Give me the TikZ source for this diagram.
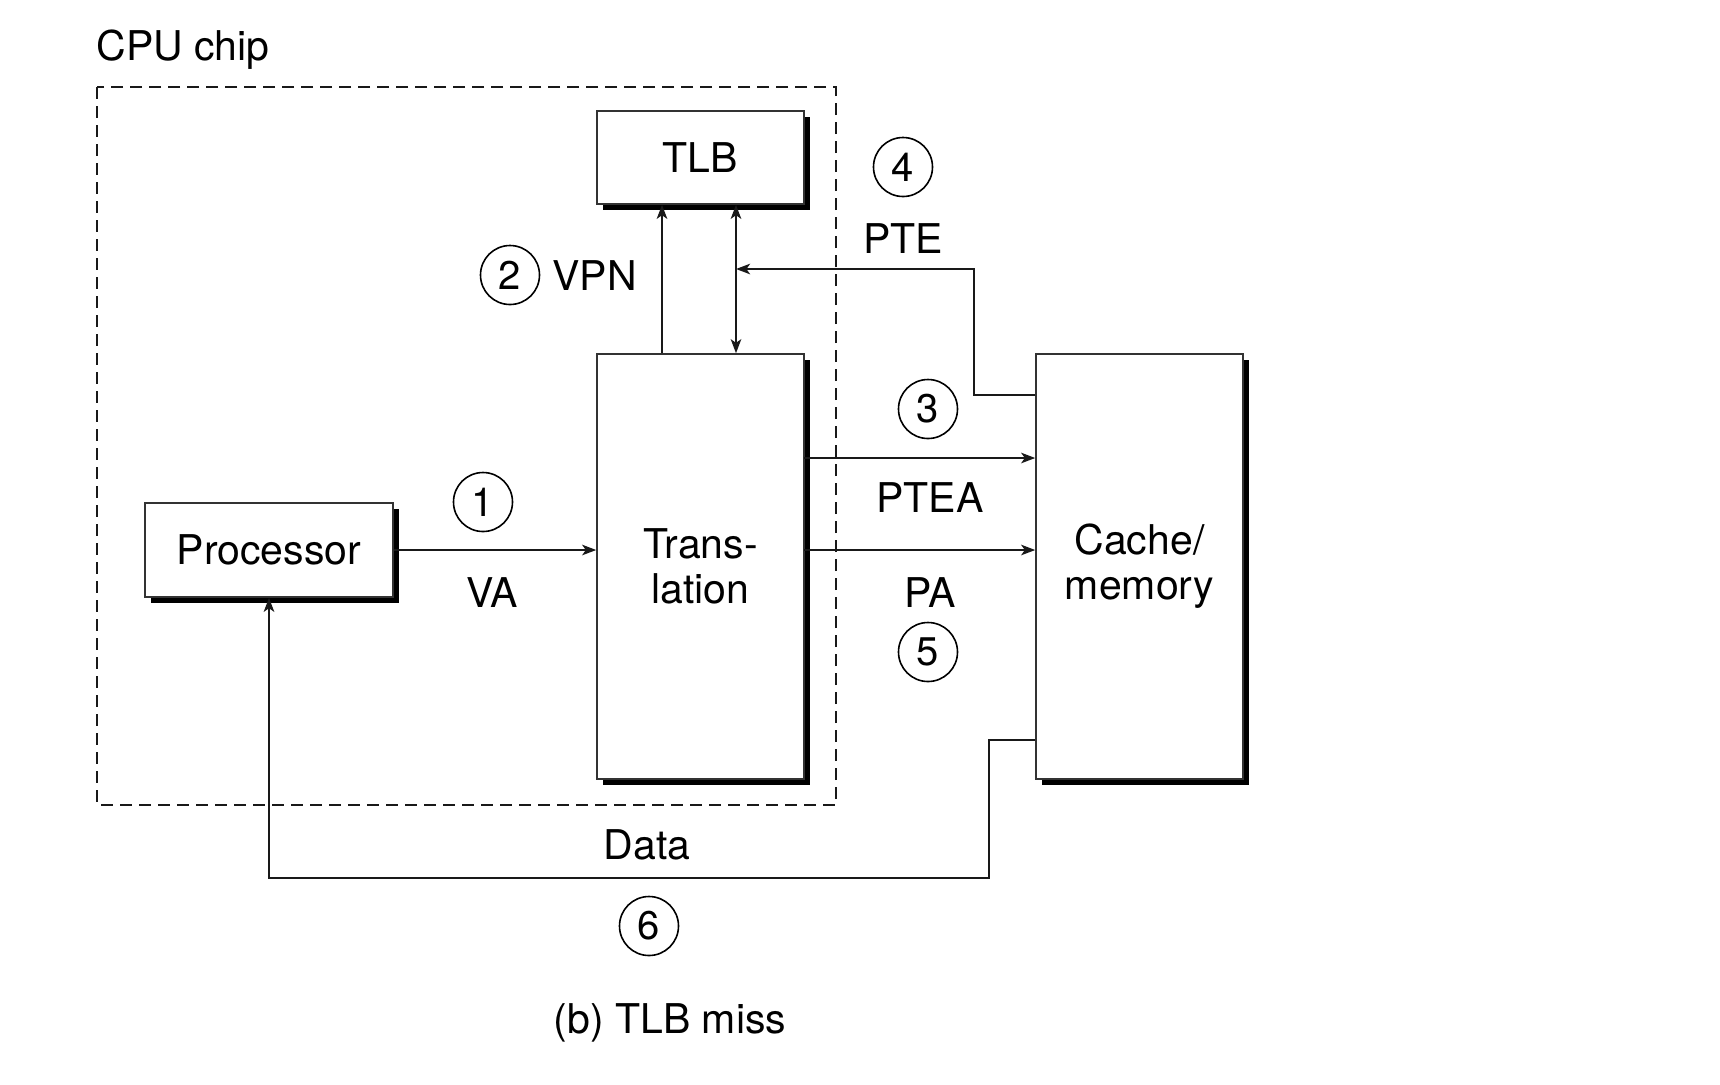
\documentclass[tikz,border=0pt]{standalone}
\usepackage{fontspec}
\setmainfont{TeX Gyre Heros}
\usetikzlibrary{arrows.meta,shadows}
\begin{document}
\begin{tikzpicture}[x=0.5pt,y=-0.5pt,
  lbl/.style={font=\fontsize{20.5}{22.5}\selectfont, inner sep=0pt, anchor=base},
  blk/.style={rectangle, draw=black!80, line width=0.75pt, fill=white, inner sep=0pt,
    align=center, font=\fontsize{20.5}{22.5}\selectfont,
    general shadow={fill=black, shadow xshift=3pt, shadow yshift=-3pt}},
  num/.style={circle, draw=black, line width=0.8pt, minimum size=29.5pt, inner sep=0pt,
    font=\fontsize{20}{20}\selectfont},
  conn/.style={line width=1.25pt, draw=black!90},
  arr/.style={conn, -{Stealth[length=7pt,width=5.2pt,inset=1.8pt]}},
  darr/.style={conn, {Stealth[length=7pt,width=5.2pt,inset=1.8pt]}-{Stealth[length=7pt,width=5.2pt,inset=1.8pt]}},
  chip/.style={draw=black!90, line width=1.1pt, dash pattern=on 6pt off 3.5pt}]
\useasboundingbox (0,0) rectangle (1720,1084);
% CPU chip boundary
\draw[chip] (97,87) rectangle (836,805);
\node[lbl, anchor=base west] (cpulbl) at (96,60) {CPU chip};
% blocks
\node[blk, minimum width=103.5pt, minimum height=46.5pt] (tlb) at (700.5,157.5) {TLB};
\node[blk, minimum width=103.5pt, minimum height=212.5pt] (trans) at (700.5,566.5) {Trans-\\lation};
\node[blk, minimum width=124pt, minimum height=47pt] (proc) at (269,550) {Processor};
\node[blk, minimum width=103.5pt, minimum height=212.5pt] (cache) at (1139.5,566.5) {Cache/\\memory};
% coordinates
\coordinate (vx) at (662,0);
\coordinate (dx) at (736,0);
\coordinate (pte1) at (974,395);
\coordinate (pte2) at (974,269);
\coordinate (ptea) at (804,458);
\coordinate (pa) at (804,550);
\coordinate (d1) at (989,740);
\coordinate (d2) at (989,878);
\coordinate (d3) at (269,878);
% connectors
\draw[arr] (proc.east) -- (proc.east -| trans.west);
\draw[arr] (trans.north -| vx) -- (tlb.south -| vx);
\draw[darr] (trans.north -| dx) -- (tlb.south -| dx);
\draw[arr] (pte1 -| cache.west) -- (pte1) -- (pte2) -- (pte2 -| dx);
\draw[arr] (ptea) -- (ptea -| cache.west);
\draw[arr] (pa) -- (pa -| cache.west);
\draw[arr] (d1 -| cache.west) -- (d1) -- (d2) -- (d3) -- (proc.south);
% labels
\node[num] (n1) at (483,502) {1};
\node[lbl] (va) at (492,607) {VA};
\node[num] (n2) at (510,275) {2};
\node[lbl, anchor=base west] (vpn) at (552,290) {VPN};
\node[num] (n3) at (928,409) {3};
\node[lbl] (ptealbl) at (930,512) {PTEA};
\node[num] (n4) at (903,167) {4};
\node[lbl] (ptelbl) at (903,253) {PTE};
\node[lbl] (palbl) at (930,607) {PA};
\node[num] (n5) at (928,652) {5};
\node[lbl] (data) at (647,859) {Data};
\node[num] (n6) at (649,926) {6};
\node[lbl] (cap) at (670,1033) {(b) TLB miss};
\end{tikzpicture}
\end{document}
